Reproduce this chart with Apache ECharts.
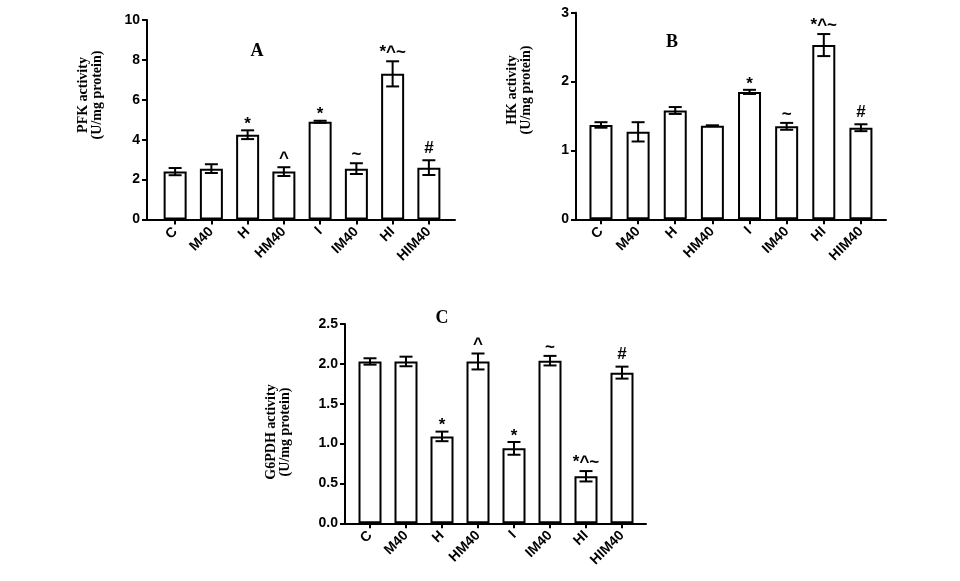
<!DOCTYPE html>
<html>
<head>
<meta charset="utf-8">
<script src="https://cdn.jsdelivr.net/npm/echarts@6/dist/echarts.min.js"></script>
<style>
html,body{margin:0;padding:0;background:#fff;}
#chart{width:960px;height:581px;}
</style>
</head>
<body>
<div id="chart"></div>
<script>
// ---- data ----
const categories = ['C', 'M40', 'H', 'HM40', 'I', 'IM40', 'HI', 'HIM40'];

const pfkMean = [2.4, 2.55, 4.25, 2.4, 4.9, 2.55, 7.3, 2.6];
const pfkErr  = [0.18, 0.22, 0.22, 0.22, 0.05, 0.27, 0.63, 0.37];
const pfkMarks = ['', '', '*', '^', '*', '~', '*^~', '#'];
const pfkTicks = [0, 10, 2];

const hkMean = [1.37, 1.27, 1.58, 1.36, 1.85, 1.35, 2.53, 1.33];
const hkErr  = [0.04, 0.14, 0.05, 0.005, 0.03, 0.05, 0.16, 0.05];
const hkMarks = ['', '', '', '', '*', '~', '*^~', '#'];
const hkTicks = [0, 3, 1];

const g6Mean = [2.03, 2.03, 1.09, 2.03, 0.94, 2.04, 0.59, 1.89];
const g6Err  = [0.04, 0.06, 0.06, 0.10, 0.08, 0.06, 0.065, 0.075];
const g6Marks = ['', '', '*', '^', '*', '~', '*^~', '#'];
const g6Ticks = [0, 2.5, 0.5];

const panelLetters = ['A', 'B', 'C'];
const yTitles = ['PFK activity\n(U/mg protein)', 'HK activity\n(U/mg protein)', 'G6PDH activity\n(U/mg protein)'];

// ---- layout / style ----
const SANS = '"Liberation Sans", Arial, sans-serif';
const SERIF = '"Liberation Serif", "Times New Roman", serif';
const BLACK = '#000';

const panels = [
  { frame: {left: 147, top: 20, width: 308, height: 199.5},
    plot:  {left: 157, top: 20, width: 290, height: 199.5},
    ticks: pfkTicks, mean: pfkMean, err: pfkErr, marks: pfkMarks, dec: 0,
    title: {x: 90, y: 95}, letter: {x: 257, y: 51} },
  { frame: {left: 576, top: 12.7, width: 310, height: 206.6},
    plot:  {left: 582.4, top: 12.7, width: 297.1, height: 206.6},
    ticks: hkTicks, mean: hkMean, err: hkErr, marks: hkMarks, dec: 0,
    title: {x: 519, y: 90}, letter: {x: 672, y: 42} },
  { frame: {left: 345, top: 324, width: 301, height: 199.3},
    plot:  {left: 352, top: 324, width: 288, height: 199.3},
    ticks: g6Ticks, mean: g6Mean, err: g6Err, marks: g6Marks, dec: 1,
    title: {x: 278, y: 432}, letter: {x: 442, y: 318} }
];

// vertical gap between the error-bar cap and the mark centre
function markGap(mark) {
  if (mark === '*') return 6;
  if (mark === '#') return 12;
  return 9;
}

const grid = [], xAxis = [], yAxis = [], series = [], graphic = [];

panels.forEach((p, k) => {
  const gFrame = grid.length;
  grid.push(Object.assign({containLabel: false}, p.frame));
  const gPlot = grid.length;
  grid.push(Object.assign({containLabel: false}, p.plot));

  // frame axes (visible y axis + x axis line)
  xAxis.push({
    gridIndex: gFrame, type: 'value', min: 0, max: 1,
    axisLine: {show: true, onZero: false, lineStyle: {color: BLACK, width: 2}},
    axisTick: {show: false}, axisLabel: {show: false}, splitLine: {show: false}
  });
  yAxis.push({
    gridIndex: gFrame, type: 'value', min: p.ticks[0], max: p.ticks[1], interval: p.ticks[2],
    axisLine: {show: true, lineStyle: {color: BLACK, width: 2}},
    axisTick: {show: true, length: 5, lineStyle: {color: BLACK, width: 2}},
    axisLabel: {color: BLACK, fontFamily: SANS, fontWeight: 'bold', fontSize: 14, margin: 7,
      formatter: v => v.toFixed(p.dec)},
    splitLine: {show: false}
  });

  // plot axes (category x with ticks/labels, hidden y with same scale)
  xAxis.push({
    gridIndex: gPlot, type: 'category', data: categories, boundaryGap: true,
    axisLine: {show: false},
    axisTick: {show: true, alignWithLabel: true, interval: 0, length: 5, lineStyle: {color: BLACK, width: 2}},
    axisLabel: {interval: 0, rotate: 45, color: BLACK, fontFamily: SANS, fontWeight: 'bold', fontSize: 14, margin: 10},
    splitLine: {show: false}
  });
  yAxis.push({
    gridIndex: gPlot, type: 'value', min: p.ticks[0], max: p.ticks[1], interval: p.ticks[2], show: false
  });
  const xi = xAxis.length - 1;
  const yi = yAxis.length - 1;

  series.push({
    type: 'bar', xAxisIndex: xi, yAxisIndex: yi, data: p.mean, barWidth: 23,
    itemStyle: {color: '#fff', borderColor: BLACK, borderWidth: 2},
    silent: true, z: 2
  });

  const ebData = p.mean.map((m, i) => [i, m, p.err[i]]);
  series.push({
    type: 'custom', xAxisIndex: xi, yAxisIndex: yi, data: ebData, z: 3, silent: true,
    renderItem: function (params, api) {
      const i = api.value(0), m = api.value(1), e = api.value(2);
      const mark = p.marks[i];
      const top = api.coord([i, m + e]);
      const bot = api.coord([i, m - e]);
      const x = top[0];
      const hw = 6.5;
      const ls = {stroke: BLACK, lineWidth: 2};
      const children = [
        {type: 'line', shape: {x1: x, y1: top[1], x2: x, y2: bot[1]}, style: ls},
        {type: 'line', shape: {x1: x - hw, y1: top[1], x2: x + hw, y2: top[1]}, style: ls},
        {type: 'line', shape: {x1: x - hw, y1: bot[1], x2: x + hw, y2: bot[1]}, style: ls}
      ];
      if (mark) {
        children.push({type: 'text', style: {
          x: x, y: top[1] - markGap(mark), text: mark, fill: BLACK,
          font: 'bold 17px ' + SANS, align: 'center', verticalAlign: 'middle'
        }});
      }
      return {type: 'group', children: children};
    }
  });

  graphic.push({
    type: 'text', x: p.title.x, y: p.title.y, rotation: Math.PI / 2,
    style: {text: yTitles[k], fill: BLACK, font: 'bold 14px ' + SERIF,
      align: 'center', verticalAlign: 'middle', lineHeight: 14}
  });
  graphic.push({
    type: 'text', x: p.letter.x, y: p.letter.y,
    style: {text: panelLetters[k], fill: BLACK, font: 'bold 18px ' + SERIF,
      align: 'center', verticalAlign: 'middle'}
  });
});

const chart = echarts.init(document.getElementById('chart'), null, {renderer: 'canvas'});
chart.setOption({
  animation: false,
  backgroundColor: '#fff',
  grid: grid, xAxis: xAxis, yAxis: yAxis, series: series, graphic: graphic
});
</script>
</body>
</html>
